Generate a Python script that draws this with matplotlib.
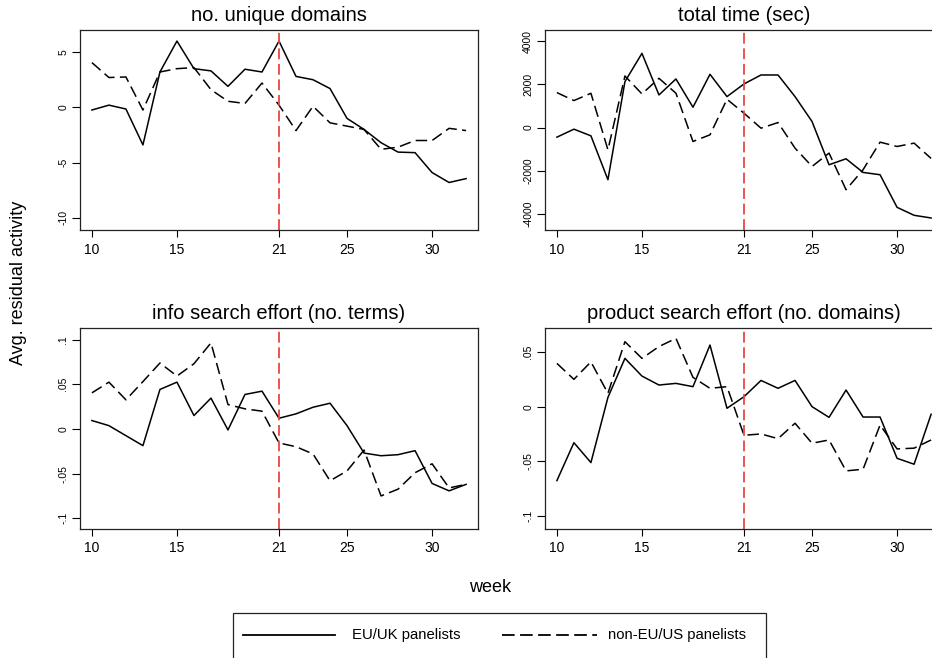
import matplotlib
matplotlib.use("Agg")
import matplotlib.pyplot as plt
from matplotlib.lines import Line2D
from matplotlib.patches import Rectangle

plt.rcParams['font.family'] = ['Liberation Sans', 'DejaVu Sans']

W, H = 932, 658

weeks = list(range(10, 33))
xticks = [10, 15, 21, 25, 30]
cutoff_week = 21

# no. unique domains
domains_eu = [-0.24, 0.2, -0.15, -3.4, 3.2, 6.0, 3.5, 3.3, 1.9, 3.45, 3.2, 6.0,
              2.8, 2.5, 1.7, -1.0, -2.0, -3.2, -4.05, -4.1, -5.9, -6.8, -6.45]
domains_non = [4.05, 2.7, 2.75, -0.24, 3.2, 3.5, 3.6, 1.6, 0.55, 0.35, 2.2, 0.2,
               -2.1, 0.1, -1.4, -1.7, -2.0, -3.8, -3.6, -3.0, -3.0, -1.9, -2.1]

# total time (sec)
time_eu = [-446, -77, -385, -2415, 2123, 3430, 1507, 2245, 938, 2461, 1430, 2015,
           2430, 2430, 1430, 277, -1723, -1446, -2077, -2184, -3692, -4060, -4184]
time_non = [1615, 1246, 1584, -1030, 2384, 1553, 2276, 1584, -646, -338, 1307, 661,
            -31, 230, -953, -1800, -1184, -2876, -1953, -677, -877, -723, -1430]

# info search effort (no. terms)
info_eu = [0.0094, 0.0037, -0.0075, -0.0187, 0.0442, 0.0524, 0.015, 0.0345, -0.0011,
           0.0386, 0.0423, 0.012, 0.0169, 0.0243, 0.0288, 0.0037, -0.027, -0.030,
           -0.0288, -0.0243, -0.061, -0.0693, -0.062]
info_non = [0.0404, 0.0524, 0.0326, 0.053, 0.0738, 0.0592, 0.073, 0.0963, 0.0273,
            0.0225, 0.0199, -0.0157, -0.0199, -0.028, -0.058, -0.047, -0.0236,
            -0.075, -0.0674, -0.049, -0.039, -0.066, -0.062]

# product search effort (no. domains)
prod_eu = [-0.0677, -0.033, -0.0512, 0.0085, 0.0442, 0.028, 0.0198, 0.0213, 0.0183,
           0.0564, -0.0015, 0.0091, 0.024, 0.0168, 0.024, 0.0, -0.0098, 0.0152,
           -0.0095, -0.0095, -0.0473, -0.0527, -0.007]
prod_non = [0.0396, 0.025, 0.041, 0.0122, 0.0595, 0.0442, 0.055, 0.0625, 0.0268,
            0.0168, 0.0183, -0.0262, -0.025, -0.0293, -0.0152, -0.0335, -0.0305,
            -0.0588, -0.0573, -0.0168, -0.0387, -0.038, -0.0305]

titles = ["no. unique domains", "total time (sec)",
          "info search effort (no. terms)", "product search effort (no. domains)"]
series_eu = [domains_eu, time_eu, info_eu, prod_eu]
series_non = [domains_non, time_non, info_non, prod_non]
ylims = [(-11.1, 7.0), (-4740, 4510), (-0.112, 0.113), (-0.112, 0.072)]
yticks = [[-10, -5, 0, 5], [-4000, -2000, 0, 2000, 4000],
          [-0.1, -0.05, 0, 0.05, 0.1], [-0.1, -0.05, 0, 0.05]]
yticklabels = [["-10", "-5", "0", "5"], ["-4000", "-2000", "0", "2000", "4000"],
               ["-.1", "-.05", "0", ".05", ".1"], ["-.1", "-.05", "0", ".05"]]
legend_labels = ["EU/UK panelists", "non-EU/US panelists"]

# axes boxes in pixels: left, top, width, height
boxes = [(80, 30, 398, 200), (545, 30, 398, 200),
         (80, 328, 398, 201), (545, 328, 398, 201)]

fig = plt.figure(figsize=(W / 100, H / 100), dpi=100)

dash = (7.5, 3.5)
lw = 1.1
red = '#e8473f'

for i in range(4):
    l, t, w, h = boxes[i]
    ax = fig.add_axes([l / W, 1 - (t + h) / H, w / W, h / H])
    ax.plot(weeks, series_eu[i], color='black', lw=lw)
    ax.plot(weeks, series_non[i], color='black', lw=lw, dashes=dash)
    ax.axvline(cutoff_week, color=red, lw=1.3, dashes=(6, 2.6))
    ax.set_xlim(9.3, 32.7)
    ax.set_ylim(*ylims[i])
    ax.set_xticks(xticks)
    ax.set_xticklabels([str(x) for x in xticks], fontsize=10)
    ax.set_yticks(yticks[i])
    ax.set_yticklabels(yticklabels[i], fontsize=7.5, rotation=90, va='center')
    ax.tick_params(direction='out', width=0.8, colors='black')
    ax.tick_params(axis='x', length=5, pad=4)
    ax.tick_params(axis='y', length=6, pad=2.5)
    for s in ax.spines.values():
        s.set_linewidth(0.9)
        s.set_color('#222222')
    ax.set_title(titles[i], fontsize=14.5, pad=6.5)

fig.text(19 / W, 1 - 283 / H, "Avg. residual activity", rotation=90,
         ha='center', va='center', fontsize=13)
fig.text(490 / W, 1 - 588 / H, "week", ha='center', va='center', fontsize=13)

# legend box (bottom is cut off by the figure edge)
fig.patches.append(Rectangle((233 / W, 1 - 700 / H), (766 - 233) / W, 87 / H,
                             transform=fig.transFigure, fill=False,
                             edgecolor='#222222', lw=0.9))
ly = 1 - 635 / H
fig.lines.append(Line2D([243 / W, 335 / W], [ly, ly], transform=fig.transFigure,
                        color='black', lw=1.3))
fig.lines.append(Line2D([502 / W, 597 / W], [ly, ly], transform=fig.transFigure,
                        color='black', lw=1.3, dashes=(7, 3)))
fig.text(352 / W, ly, legend_labels[0], ha='left', va='center', fontsize=10.7)
fig.text(608 / W, ly, legend_labels[1], ha='left', va='center', fontsize=10.7)

fig.savefig("out.png", dpi=100)
